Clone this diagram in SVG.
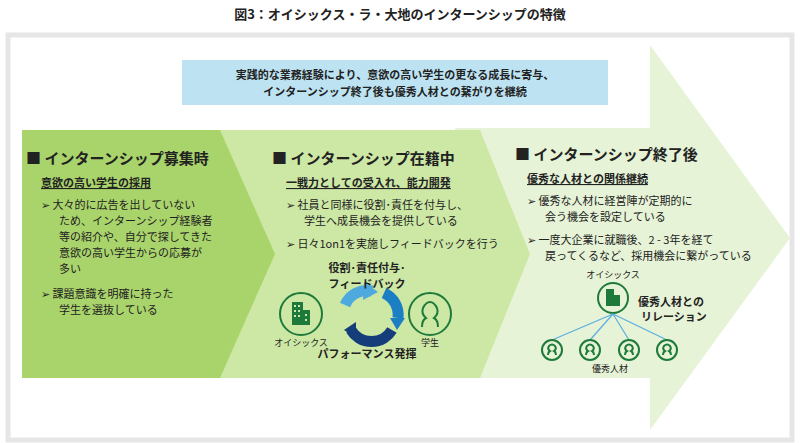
<svg xmlns="http://www.w3.org/2000/svg" width="800" height="443" viewBox="0 0 800 443">
<style>
text{font-family:"Noto Sans CJK JP","Noto Sans",sans-serif;fill:#222}
.h{font-size:15px;font-weight:bold}
.s{font-size:11px;font-weight:bold}
.b{font-size:11px}
.ic{fill:none;stroke:#1e7a3a;stroke-width:2}
.bl{fill:none;stroke:#5aaee0;stroke-width:1.2}
</style>
<rect width="800" height="443" fill="#fff"/>
<text x="400" y="19" text-anchor="middle" font-size="13" font-weight="bold">図3：オイシックス・ラ・大地のインターンシップの特徴</text>
<rect x="8" y="35" width="784" height="405" fill="#fff" stroke="#e6e6e6" stroke-width="5"/>
<g id="panel3"><polygon points="455,128 650,128 650,45 790,238 650,430 650,378 455,378 505,253" fill="#e6f3d6"/></g>
<g id="panel2"><polygon points="210,130 480,130 530,254 480,378 210,378 270,254" fill="#cde8a5"/></g>
<g id="panel1"><polygon points="22,130 220,130 275,254 220,378 22,378" fill="#a9d46b"/></g>
<g id="banner"><rect x="182" y="60" width="426" height="45" fill="#bde3f3"/>
<text x="395" y="79" text-anchor="middle" class="s">実践的な業務経験により、意欲の高い学生の更なる成長に寄与、</text>
<text x="395" y="96" text-anchor="middle" class="s">インターンシップ終了後も優秀人材との繋がりを継続</text></g>
<g id="t1">
<text x="26" y="164" class="h">■ インターンシップ募集時</text>
<text x="41" y="187" class="s" text-decoration="underline">意欲の高い学生の採用</text>
<text x="41" y="209" class="b">➢  大々的に広告を出していない</text>
<text x="59" y="225" class="b">ため、インターンシップ経験者</text>
<text x="59" y="241" class="b">等の紹介や、自分で探してきた</text>
<text x="59" y="257" class="b">意欲の高い学生からの応募が</text>
<text x="59" y="273" class="b">多い</text>
<text x="41" y="298" class="b">➢  課題意識を明確に持った</text>
<text x="59" y="314" class="b">学生を選抜している</text></g>
<g id="t2">
<text x="272" y="164" class="h">■ インターンシップ在籍中</text>
<text x="286" y="187" class="s" text-decoration="underline">一戦力としての受入れ、能力開発</text>
<text x="286" y="209" class="b">➢  社員と同様に役割･責任を付与し、</text>
<text x="304" y="225" class="b">学生へ成長機会を提供している</text>
<text x="286" y="248" class="b">➢  日々1on1を実施しフィードバックを行う</text>
<circle cx="301" cy="314" r="21" class="ic"/>
<g fill="#1e7a3a"><rect x="292" y="302" width="11" height="23"/><rect x="303" y="310" width="7" height="15"/></g>
<g fill="#cde8a5"><rect x="294" y="305" width="2" height="2"/><rect x="298" y="305" width="2" height="2"/><rect x="294" y="310" width="2" height="2"/><rect x="298" y="310" width="2" height="2"/><rect x="294" y="315" width="2" height="2"/><rect x="298" y="315" width="2" height="2"/><rect x="305" y="314" width="2" height="2"/><rect x="305" y="319" width="2" height="2"/></g>
<text x="301" y="346" text-anchor="middle" font-size="9">オイシックス</text>
<circle cx="430" cy="314" r="21" class="ic"/>
<path d="M422,327 q0,-7 4,-9 q-5,-4 -3,-10 q3,-6 7,-6 q4,0 7,6 q2,6 -3,10 q4,2 4,9" class="ic"/>
<text x="430" y="346" text-anchor="middle" font-size="9">学生</text>
<g stroke-width="11" fill="none">
<path d="M345,305 A24,24 0 0 1 372,291" stroke="#4ea9df"/>
<path d="M384,293 A24,24 0 0 1 398,318" stroke="#1c7fc4"/>
<path d="M392,330 A24,24 0 0 1 351,330" stroke="#143d7a"/>
</g>
<polygon points="364,282 378,292 363,300" fill="#4ea9df"/>
<polygon points="390,318 405,318 397,330" fill="#1c7fc4"/>
<polygon points="356,322 356,338 344,330" fill="#143d7a"/>
<text x="367" y="272" text-anchor="middle" class="s" font-size="10">役割･責任付与･</text>
<text x="367" y="288" text-anchor="middle" class="s" font-size="10">フィードバック</text>
<text x="367" y="358" text-anchor="middle" class="s" font-size="10">パフォーマンス発揮</text></g>
<g id="t3">
<text x="515" y="160" class="h">■ インターンシップ終了後</text>
<text x="527" y="183" class="s" text-decoration="underline">優秀な人材との関係継続</text>
<text x="527" y="205" class="b">➢  優秀な人材に経営陣が定期的に</text>
<text x="545" y="221" class="b">会う機会を設定している</text>
<text x="527" y="244" class="b">➢  一度大企業に就職後、2 - 3年を経て</text>
<text x="545" y="260" class="b">戻ってくるなど、採用機会に繋がっている</text>
<text x="613" y="278" text-anchor="middle" font-size="9">オイシックス</text>
<circle cx="613" cy="298" r="15" class="ic"/>
<g fill="#1e7a3a"><rect x="606" y="289" width="8" height="17"/><rect x="614" y="295" width="6" height="11"/></g>
<text x="638" y="306" class="s">優秀人材との</text>
<text x="641" y="321" class="s">リレーション</text>
<g class="bl"><path d="M613,314 L552,340 M613,314 L590,340 M613,314 L629,340 M613,314 L667,340"/></g>
<g id="p4">
<circle cx="552" cy="350" r="10" class="ic" stroke-width="1.5"/><path d="M548,355 q0,-3 2,-4 q-3,-2 -1,-5 q3,-3 6,0 q2,3 -1,5 q2,1 2,4" class="ic" stroke-width="1.2"/>
<circle cx="590" cy="350" r="10" class="ic" stroke-width="1.5"/><path d="M586,355 q0,-3 2,-4 q-3,-2 -1,-5 q3,-3 6,0 q2,3 -1,5 q2,1 2,4" class="ic" stroke-width="1.2"/>
<circle cx="629" cy="350" r="10" class="ic" stroke-width="1.5"/><path d="M625,355 q0,-3 2,-4 q-3,-2 -1,-5 q3,-3 6,0 q2,3 -1,5 q2,1 2,4" class="ic" stroke-width="1.2"/>
<circle cx="667" cy="350" r="10" class="ic" stroke-width="1.5"/><path d="M663,355 q0,-3 2,-4 q-3,-2 -1,-5 q3,-3 6,0 q2,3 -1,5 q2,1 2,4" class="ic" stroke-width="1.2"/>
</g>
<text x="610" y="372" text-anchor="middle" font-size="9">優秀人材</text></g>
</svg>
